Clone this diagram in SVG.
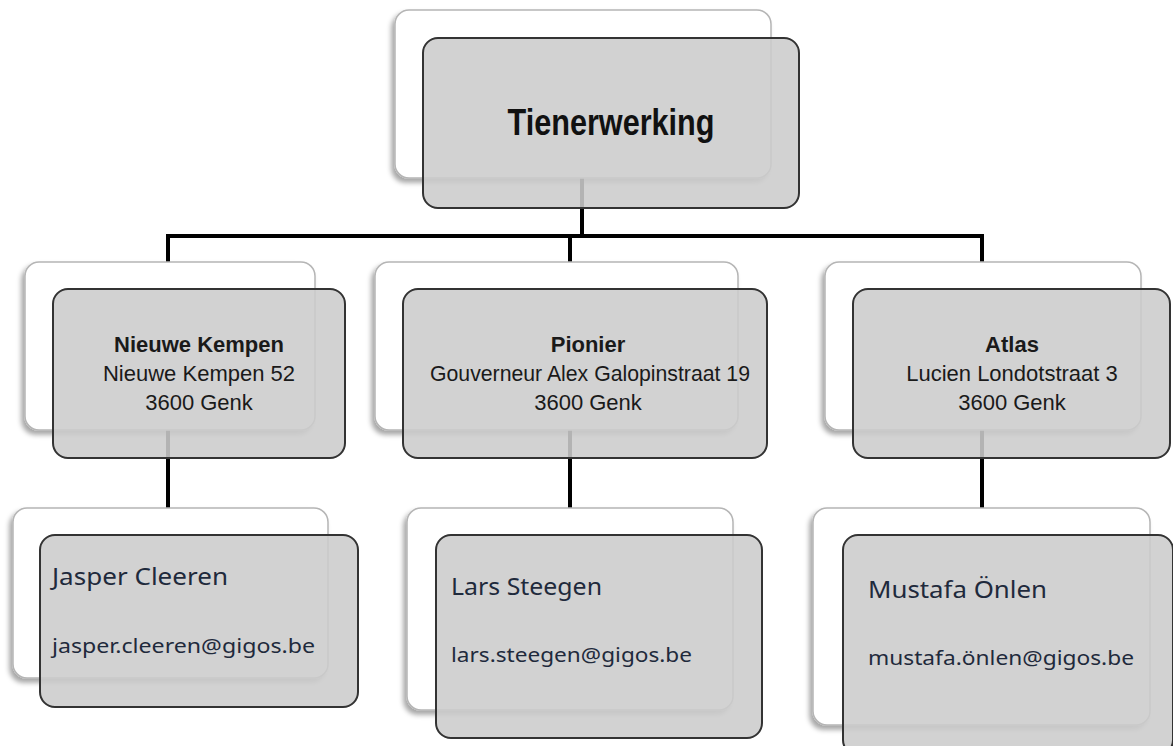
<svg xmlns="http://www.w3.org/2000/svg" width="1173" height="746" viewBox="0 0 1173 746">
  <defs>
    <filter id="sh" x="-10%" y="-10%" width="120%" height="130%">
      <feDropShadow dx="-3" dy="4" stdDeviation="2.5" flood-color="#000" flood-opacity="0.35"/>
    </filter>
  </defs>
  <style>
    .back { fill: #ffffff; stroke: #b5b5b5; stroke-width: 1.5; filter: url(#sh); }
    .front { fill: #cccccc; fill-opacity: 0.88; stroke: #333333; stroke-width: 2; }
    .conn { stroke: #000000; stroke-width: 4; fill: none; }
    .title { font-family: "Liberation Sans", Arial, sans-serif; font-weight: bold; font-size: 36px; fill: #111111; text-anchor: middle; }
    .hb { font-family: "Liberation Sans", Arial, sans-serif; font-weight: bold; font-size: 22px; fill: #1a1a1a; text-anchor: middle; }
    .hr { font-family: "Liberation Sans", Arial, sans-serif; font-size: 22px; fill: #1a1a1a; text-anchor: middle; }
    .nm { font-family: "Noto Sans", "Open Sans", sans-serif; font-size: 24px; fill: #1f2a3c; }
    .em { font-family: "Noto Sans", "Open Sans", sans-serif; font-size: 20px; fill: #1f2a3c; }
  </style>

  <g id="connectors">
    <path class="conn" d="M582 178 V236 M166 236 H984 M168 236 V262 M570 236 V262 M982 236 V262"/>
    <path class="conn" d="M168 430 V508 M570 430 V508 M982 430 V508"/>
  </g>

  <g id="node-tienerwerking">
    <rect class="back" x="395" y="10" width="376" height="168" rx="14"/>
    <rect class="front" x="423" y="38" width="376" height="170" rx="15"/>
    <text class="title" x="611" y="135" textLength="207" lengthAdjust="spacingAndGlyphs">Tienerwerking</text>
  </g>

  <g id="node-nieuwe-kempen">
    <rect class="back" x="25" y="262" width="290" height="168" rx="14"/>
    <rect class="front" x="53" y="289" width="292" height="169" rx="15"/>
    <text class="hb" x="199" y="352">Nieuwe Kempen</text>
    <text class="hr" x="199" y="381">Nieuwe Kempen 52</text>
    <text class="hr" x="199" y="410">3600 Genk</text>
  </g>

  <g id="node-pionier">
    <rect class="back" x="375" y="262" width="363" height="168" rx="14"/>
    <rect class="front" x="403" y="289" width="364" height="169" rx="15"/>
    <text class="hb" x="588" y="352">Pionier</text>
    <text class="hr" x="590" y="381" textLength="320" lengthAdjust="spacingAndGlyphs">Gouverneur Alex Galopinstraat 19</text>
    <text class="hr" x="588" y="410">3600 Genk</text>
  </g>

  <g id="node-atlas">
    <rect class="back" x="825" y="262" width="316" height="168" rx="14"/>
    <rect class="front" x="853" y="289" width="317" height="169" rx="15"/>
    <text class="hb" x="1012" y="352">Atlas</text>
    <text class="hr" x="1012" y="381">Lucien Londotstraat 3</text>
    <text class="hr" x="1012" y="410">3600 Genk</text>
  </g>

  <g id="node-jasper">
    <rect class="back" x="13" y="508" width="315" height="170" rx="14"/>
    <rect class="front" x="40" y="535" width="318" height="172" rx="15"/>
    <text class="nm" x="52" y="585" textLength="176" lengthAdjust="spacingAndGlyphs">Jasper Cleeren</text>
    <text class="em" x="52" y="653" textLength="263" lengthAdjust="spacingAndGlyphs">jasper.cleeren@gigos.be</text>
  </g>

  <g id="node-lars">
    <rect class="back" x="407" y="508" width="326" height="202" rx="14"/>
    <rect class="front" x="436" y="535" width="326" height="203" rx="15"/>
    <text class="nm" x="451" y="595" textLength="151" lengthAdjust="spacingAndGlyphs">Lars Steegen</text>
    <text class="em" x="451" y="662" textLength="241" lengthAdjust="spacingAndGlyphs">lars.steegen@gigos.be</text>
  </g>

  <g id="node-mustafa">
    <rect class="back" x="813" y="508" width="337" height="217" rx="14"/>
    <rect class="front" x="843" y="535" width="330" height="220" rx="15"/>
    <text class="nm" x="868" y="598" textLength="179" lengthAdjust="spacingAndGlyphs">Mustafa Önlen</text>
    <text class="em" x="868" y="665" textLength="266" lengthAdjust="spacingAndGlyphs">mustafa.önlen@gigos.be</text>
  </g>
</svg>
